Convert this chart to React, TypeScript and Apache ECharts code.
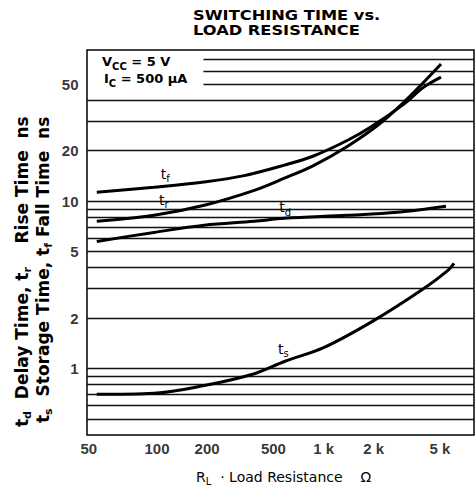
import React, { useEffect, useRef } from "react";
import * as echarts from "echarts";

// Axis ticks / gridlines
const xTickValues = [50, 100, 200, 500, 1000, 2000, 5000];
const yTickValues = [1, 2, 5, 10, 20, 50];
const gridLineValues = [0.5, 0.6, 0.7, 0.8, 0.9, 1, 2, 3, 4, 5, 6, 7, 8, 9, 10, 20, 30, 40, 50, 60, 70];

// Curves: [R_L (ohm), time (ns)]
const tdData: [number, number][] = [
  [43.5, 5.74], [96, 6.5], [192, 7.17], [384, 7.57], [582, 7.89], [1395, 8.22], [2790, 8.57], [5430, 9.31],
];
const trData: [number, number][] = [
  [43.5, 7.57], [96, 8.22], [192, 9.44], [384, 11.6], [582, 13.7], [870, 16.3], [1395, 21.3],
  [2115, 28.4], [3034, 39.0], [4000, 51.4], [5070, 65.9],
];
const tfData: [number, number][] = [
  [43.5, 11.3], [96, 12.1], [192, 13.0], [334, 14.2], [582, 16.4], [870, 18.6], [1395, 23.1],
  [1920, 27.7], [3034, 38.0], [4000, 48.0], [5070, 55.1],
];
const tsData: [number, number][] = [
  [43.5, 0.70], [96, 0.71], [192, 0.79], [384, 0.93], [582, 1.1], [1000, 1.33], [2000, 1.93],
  [4000, 3.0], [5580, 3.85], [6070, 4.24],
];

const X_MIN = 38;
const X_MAX = 8000;
const Y_MIN = 0.4;
const Y_MAX = 80;

// rich-text styles with lowered subscripts
function richStyles(colorKey: "fill" | "color", family: string, size: number, subSize: number, weight: string) {
  const lh = size + 3;
  const subLh = subSize + 2;
  const pad = Math.round(lh / 2 + size * 0.32 - subLh / 2);
  return {
    n: { fontFamily: family, fontWeight: weight, fontSize: size, [colorKey]: "#000", verticalAlign: "top", lineHeight: lh },
    s: {
      fontFamily: family, fontWeight: weight, fontSize: subSize, [colorKey]: "#000",
      verticalAlign: "top", lineHeight: subLh, padding: [pad, 0, 0, 0],
    },
  };
}

function curveSeries(name: string, data: [number, number][], sub: string, at: [number, number]) {
  return {
    name,
    type: "line",
    data,
    smooth: 0.35,
    showSymbol: false,
    symbol: "none",
    z: 5,
    lineStyle: { color: "#000", width: 3 },
    markPoint: {
      silent: true,
      symbol: "circle",
      symbolSize: 1,
      itemStyle: { color: "rgba(0,0,0,0)" },
      label: {
        show: true,
        position: "inside",
        formatter: `{n|t}{s|${sub}}`,
        rich: richStyles("color", "DejaVu Sans", 14, 10, "normal"),
      },
      data: [{ coord: at }],
    },
  };
}

export default function App() {
  const ref = useRef<HTMLDivElement>(null);

  useEffect(() => {
    if (!ref.current) return;
    const chart = echarts.init(ref.current, null, { renderer: "svg" });

    const tickFont = '"Liberation Sans Narrow", "Liberation Sans", sans-serif';

    const gridMarkData: any[] = gridLineValues.map((v) =>
      v >= 50
        ? [{ coord: [190, v] }, { coord: [X_MAX, v] }]
        : [{ coord: [X_MIN, v] }, { coord: [X_MAX, v] }]
    );

    const boldRich = richStyles("fill", "DejaVu Sans", 13, 10, "bold");
    const yNameRich = richStyles("fill", "DejaVu Sans", 17, 11, "bold");
    const xNameRich = richStyles("fill", "DejaVu Sans", 14, 10, "normal");

    const option: any = {
      animation: false,
      backgroundColor: "#fff",
      grid: {
        left: 87,
        right: 1,
        top: 50,
        bottom: 56,
        show: true,
        borderColor: "#000",
        borderWidth: 1.5,
        backgroundColor: "rgba(0,0,0,0)",
      },
      xAxis: {
        type: "log",
        logBase: 10,
        min: X_MIN,
        max: X_MAX,
        axisLine: { show: false },
        axisTick: { show: false },
        axisLabel: { show: false },
        splitLine: { show: false },
        minorSplitLine: { show: false },
      },
      yAxis: {
        type: "log",
        logBase: 10,
        min: Y_MIN,
        max: Y_MAX,
        axisLine: { show: false },
        axisTick: { show: false },
        axisLabel: { show: false },
        splitLine: { show: false },
        minorSplitLine: { show: false },
      },
      series: [
        {
          name: "xTicks",
          type: "scatter",
          clip: false,
          silent: true,
          z: 2,
          symbolSize: 1,
          itemStyle: { color: "rgba(0,0,0,0)" },
          data: xTickValues.map((v) => [v, Y_MIN]),
          label: {
            show: true,
            position: "bottom",
            distance: 5,
            color: "#000",
            fontFamily: tickFont,
            fontWeight: "bold",
            fontSize: 15,
            formatter: (p: any) => {
              const v = p.value[0];
              const txt = v >= 1000 ? `${v / 1000} k` : String(v);
              return v === 50 ? `{shift|${txt}}` : `{n|${txt}}`;
            },
            rich: {
              n: { fontFamily: tickFont, fontWeight: "bold", fontSize: 15, color: "#000" },
              shift: { fontFamily: tickFont, fontWeight: "bold", fontSize: 15, color: "#000", padding: [0, 36, 0, 0] },
            },
          },
          markLine: {
            silent: true,
            symbol: ["none", "none"],
            label: { show: false },
            emphasis: { disabled: true },
            lineStyle: { color: "#111", width: 1.4, type: "solid" },
            data: gridMarkData,
          },
        },
        {
          name: "yTicks",
          type: "scatter",
          clip: false,
          silent: true,
          z: 2,
          symbolSize: 1,
          itemStyle: { color: "rgba(0,0,0,0)" },
          data: yTickValues.map((v) => [X_MIN, v]),
          label: {
            show: true,
            position: "left",
            distance: 8,
            color: "#000",
            fontFamily: tickFont,
            fontWeight: "bold",
            fontSize: 15,
            formatter: (p: any) => String(p.value[1]),
          },
        },
        curveSeries("tf", tfData, "f", [112, 14.3]),
        curveSeries("tr", trData, "r", [110, 10.0]),
        curveSeries("td", tdData, "d", [589, 9.0]),
        curveSeries("ts", tsData, "s", [574, 1.28]),
      ],
      graphic: [
        {
          type: "text",
          x: 193,
          y: 8,
          scaleX: 1.16,
          style: {
            text: "SWITCHING TIME vs.\nLOAD RESISTANCE",
            fontFamily: "DejaVu Sans",
            fontWeight: "bold",
            fontSize: 14,
            lineHeight: 15,
            align: "left",
            verticalAlign: "top",
            fill: "#000",
          },
        },
        {
          type: "text",
          x: 102,
          y: 63,
          style: { text: "{n|V}{s|CC}{n| = 5 V}", verticalAlign: "middle", rich: boldRich },
        },
        {
          type: "text",
          x: 104,
          y: 80,
          style: { text: "{n|I}{s|C}{n| = 500 µA}", verticalAlign: "middle", rich: boldRich },
        },
        {
          type: "text",
          x: 23,
          y: 427,
          rotation: Math.PI / 2,
          style: {
            text: "{n|t}{s|d}{n|  Delay Time, t}{s|r}{n|    Rise Time  ns}",
            align: "left",
            verticalAlign: "middle",
            rich: yNameRich,
          },
        },
        {
          type: "text",
          x: 44,
          y: 423,
          rotation: Math.PI / 2,
          style: {
            text: "{n|t}{s|s}{n|  Storage Time, t}{s|f}{n| Fall Time  ns}",
            align: "left",
            verticalAlign: "middle",
            rich: yNameRich,
          },
        },
        {
          type: "text",
          x: 196,
          y: 478,
          style: { text: "{n|R}{s|L}{n|  · Load Resistance    Ω}", verticalAlign: "middle", rich: xNameRich },
        },
      ],
    };

    chart.setOption(option);
    return () => chart.dispose();
  }, []);

  return (
    <div
      ref={ref}
      style={{ position: "absolute", left: 0, top: 0, width: 475, height: 491, background: "#fff" }}
    />
  );
}
